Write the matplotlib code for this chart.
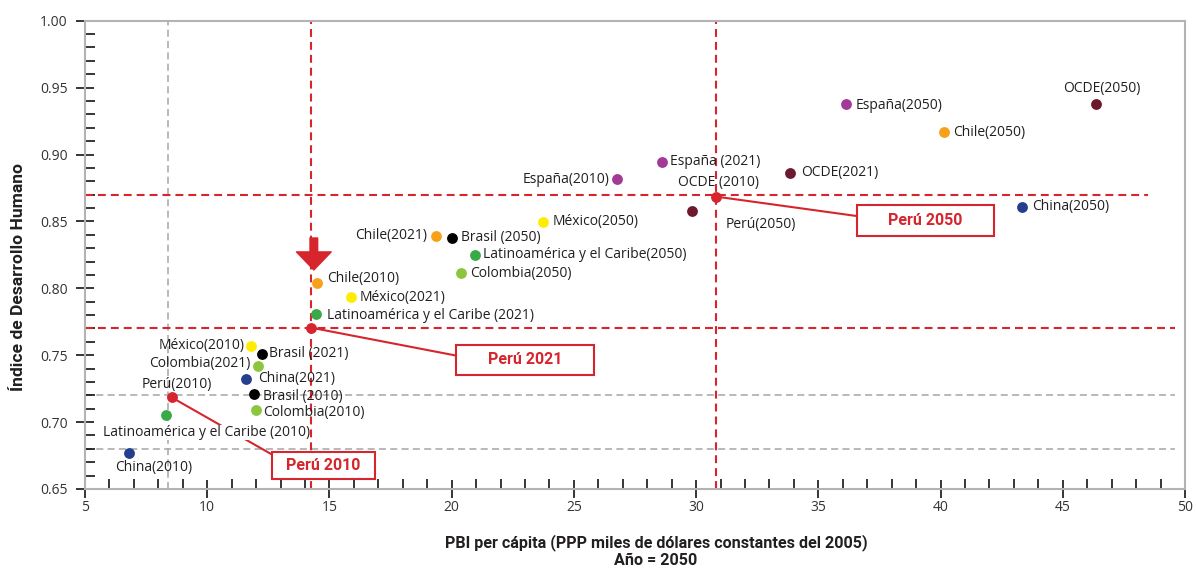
import matplotlib.pyplot as plt
from matplotlib.ticker import MultipleLocator

# valores: PBI per cápita (miles USD PPP 2005) e IDH
china_x = [6.80, 11.58, 43.35]
china_y = [0.677, 0.7325, 0.861]
latam_x = [8.31, 14.44, 20.94]
latam_y = [0.705, 0.7806, 0.8249]
colombia_x = [11.99, 12.06, 20.39]
colombia_y = [0.709, 0.742, 0.8112]
mexico_x = [11.81, 15.87, 23.73]
mexico_y = [0.757, 0.7937, 0.8498]
brasil_x = [11.92, 12.22, 20.03]
brasil_y = [0.721, 0.751, 0.8374]
chile_x = [14.51, 19.34, 40.16]
chile_y = [0.8042, 0.839, 0.9166]
espana_x = [26.77, 28.62, 36.13]
espana_y = [0.8815, 0.8946, 0.9375]
ocde_x = [29.83, 33.85, 46.36]
ocde_y = [0.8578, 0.8864, 0.9375]
peru_x = [8.54, 14.24, 30.83]
peru_y = [0.7185, 0.7706, 0.8685]

china_lab = ['China(2010)', 'China(2021)', 'China(2050)']
latam_lab = ['Latinoamérica y el Caribe (2010)', 'Latinoamérica y el Caribe (2021)',
             'Latinoamérica y el Caribe(2050)']
colombia_lab = ['Colombia(2010)', 'Colombia(2021)', 'Colombia(2050)']
mexico_lab = ['México(2010)', 'México(2021)', 'México(2050)']
brasil_lab = ['Brasil (2010)', 'Brasil (2021)', 'Brasil (2050)']
chile_lab = ['Chile(2010)', 'Chile(2021)', 'Chile(2050)']
espana_lab = ['España(2010)', 'España (2021)', 'España(2050)']
ocde_lab = ['OCDE (2010)', 'OCDE(2021)', 'OCDE(2050)']
peru_lab = ['Perú(2010)', '', 'Perú(2050)']
peru_box = ['Perú 2010', 'Perú 2021', 'Perú 2050']

# líneas de referencia
gray_vx = 8.38
gray_hy = [0.720, 0.680]
red_vx = [peru_x[1], peru_x[2]]
red_hy = [peru_y[1], 0.8697]

red = '#d6252c'
txt = '#231f20'

series = [
    (china_x, china_y, china_lab, '#253f8e'),
    (latam_x, latam_y, latam_lab, '#3aaa48'),
    (colombia_x, colombia_y, colombia_lab, '#8cc63f'),
    (mexico_x, mexico_y, mexico_lab, '#ffed00'),
    (brasil_x, brasil_y, brasil_lab, '#000000'),
    (chile_x, chile_y, chile_lab, '#f7a11a'),
    (espana_x, espana_y, espana_lab, '#a33a98'),
    (ocde_x, ocde_y, ocde_lab, '#6d1a2f'),
    (peru_x, peru_y, peru_lab, red),
]

# desplazamiento de etiquetas en pixeles (dx, dy, alineación)
offsets = [
    [(25, -15, 'center'), (12, 0, 'left'), (9.5, 0, 'left')],
    [(40.5, -16.7, 'center'), (11.7, -1.7, 'left'), (8.3, 0, 'left')],
    [(7, -2.7, 'left'), (-6.7, 2, 'right'), (8.6, 0, 'left')],
    [(-6.7, 0, 'right'), (9, -1, 'left'), (9.4, 0, 'left')],
    [(8.7, -2, 'left'), (7.3, 0, 'left'), (8.3, 1, 'left')],
    [(10, 4.4, 'left'), (-8.3, 1, 'right'), (9, 0, 'left')],
    [(-7.7, -0.7, 'right'), (8, 0, 'left'), (9.3, -0.7, 'left')],
    [(26.8, 28.3, 'center'), (10.7, 0, 'left'), (6, 16, 'center')],
    [(5.3, 13.3, 'center'), (0, 0, 'left'), (9, -28, 'left')],
]

fig = plt.figure(figsize=(11.96, 5.69), dpi=100)
ax = fig.add_axes([0.0711, 0.1406, 0.9197, 0.823])

ax.set_xlim(5, 50)
ax.set_ylim(0.65, 1.00)

# lineas punteadas
ax.axvline(gray_vx, color='#a6a6a6', lw=1.1, dashes=(4.6, 2.8), zorder=1)
for y in gray_hy:
    ax.plot([5, 49.6], [y, y], color='#a6a6a6', lw=1.1, dashes=(4.6, 2.8), zorder=1)
for x in red_vx:
    ax.axvline(x, color=red, lw=1.5, dashes=(3.8, 2.4), zorder=2)
ax.plot([5, 49.6], [red_hy[0], red_hy[0]], color=red, lw=1.5, dashes=(3.8, 2.4), zorder=2)
ax.plot([5, 48.5], [red_hy[1], red_hy[1]], color=red, lw=1.5, dashes=(3.8, 2.4), zorder=2)

for (xs, ys, labs, c), offs in zip(series, offsets):
    ax.plot(xs, ys, 'o', color=c, ms=7.8, mec='none', zorder=6)
    for x, y, lab, (dx, dy, ha) in zip(xs, ys, labs, offs):
        if not lab:
            continue
        bb = None
        if lab.startswith('Latinoamérica y el Caribe (2010)'):
            bb = dict(boxstyle='square,pad=0', fc='white', ec='none')
        ax.annotate(lab, (x, y), xytext=(dx, dy), textcoords='offset pixels',
                    ha=ha, va='center', fontsize=10, family='Open Sans',
                    color=txt, bbox=bb, zorder=5)

# cajas Perú
box_off = [(151.8, -68.2), (214.3, -32.3), (209, -24)]
box_txt = ['  ' + peru_box[0] + '  ', '      ' + peru_box[1] + '      ',
           '      ' + peru_box[2] + '      ']
box_pad = [0.38, 0.48, 0.48]
box_rel = [(0, 1), (0, 0.69), (0, 0.74)]
for x, y, t, off, pad, rel in zip(peru_x, peru_y, box_txt, box_off, box_pad, box_rel):
    ax.annotate(t, (x, y), xytext=off, textcoords='offset pixels',
                ha='center', va='center', fontsize=11.5, family='Roboto',
                fontweight='bold', color=red,
                bbox=dict(boxstyle='square,pad=%s' % pad, fc='white', ec=red, lw=1.5),
                arrowprops=dict(arrowstyle='-', color=red, lw=1.5,
                                shrinkA=0, shrinkB=0, relpos=rel),
                zorder=3)

# flecha roja sobre Perú 2021
ax.annotate('', xy=(14.36, 0.8137), xytext=(14.36, 0.8376),
            arrowprops=dict(arrowstyle='simple,head_width=2.5,head_length=1.3,tail_width=0.55',
                            mutation_scale=10, color=red, shrinkA=0, shrinkB=0),
            zorder=4)

# ejes
for s in ax.spines.values():
    s.set_color('#b3b3b3')
    s.set_linewidth(1.5)

ax.xaxis.set_major_locator(MultipleLocator(5))
ax.xaxis.set_minor_locator(MultipleLocator(1))
ax.yaxis.set_major_locator(MultipleLocator(0.05))
ax.yaxis.set_minor_locator(MultipleLocator(0.01))
ax.yaxis.set_major_formatter(plt.FormatStrFormatter('%.2f'))

ax.tick_params(which='major', direction='inout', length=13, width=1.1, color='black',
               labelsize=10, labelcolor='#333333')
ax.tick_params(which='minor', direction='in', length=7, width=1.1, color='black')
ax.tick_params(axis='x', which='major', pad=1.5)
ax.tick_params(axis='y', which='major', pad=6)
for lb in ax.get_xticklabels() + ax.get_yticklabels():
    lb.set_family('Open Sans')

ax.set_xlabel('PBI per cápita (PPP miles de dólares constantes del 2005)\nAño = 2050',
              fontsize=11.6, family='Roboto', fontweight='bold', color=txt, linespacing=1.15)
ax.xaxis.set_label_coords(0.519, -0.096)
ax.set_ylabel('Índice de Desarrollo Humano', fontsize=12.6, family='Roboto',
              fontweight='bold', color=txt)
ax.yaxis.set_label_coords(-0.054, 0.453)

fig.savefig('out.png', dpi=100)
